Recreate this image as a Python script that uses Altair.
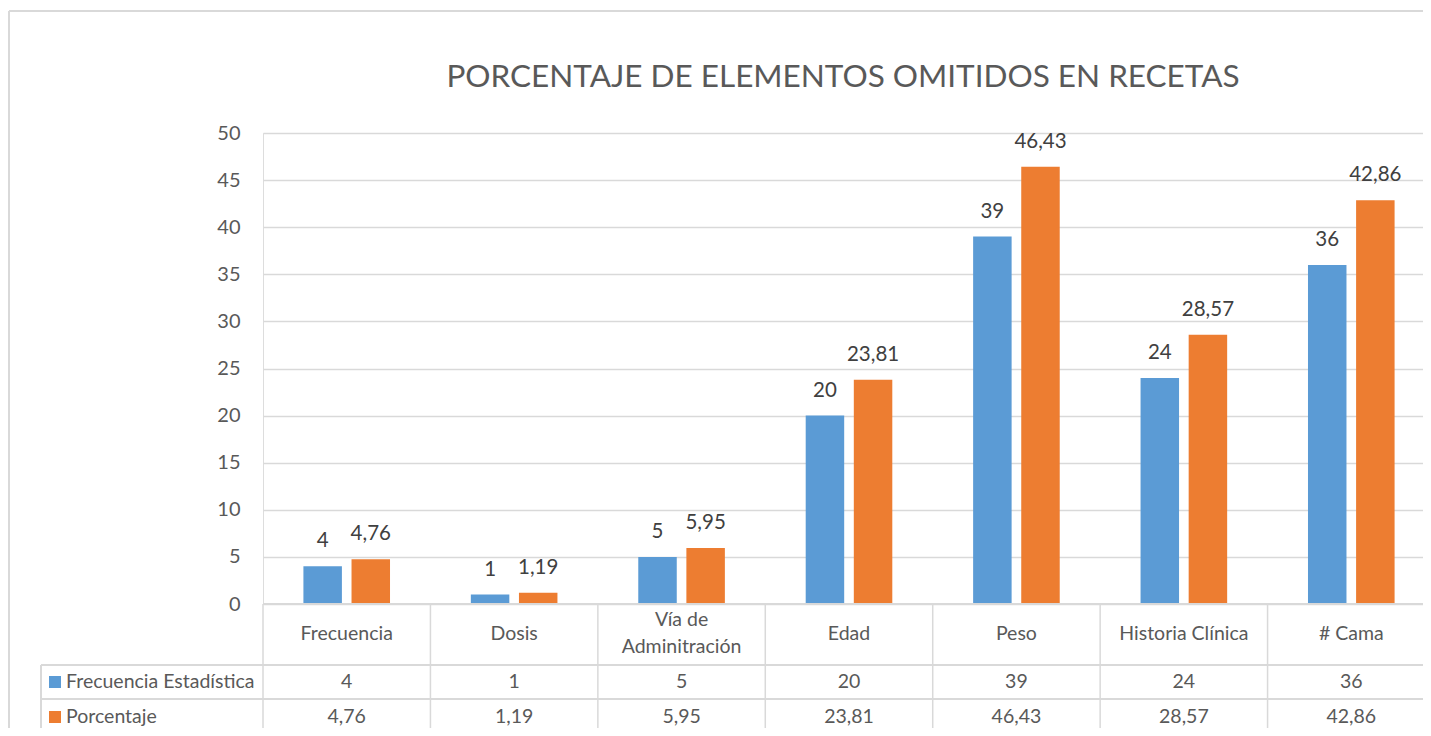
import altair as alt
import pandas as pd

title_text = "PORCENTAJE DE ELEMENTOS OMITIDOS EN RECETAS"
categories = ["Frecuencia", "Dosis", "Vía de\nAdminitración", "Edad", "Peso", "Historia  Clínica", "# Cama"]
series_names = ["Frecuencia Estadística", "Porcentaje"]
frecuencia = [4, 1, 5, 20, 39, 24, 36]
porcentaje = [4.76, 1.19, 5.95, 23.81, 46.43, 28.57, 42.86]
colors = ["#5B9BD5", "#ED7D31"]
y_ticks = [0, 5, 10, 15, 20, 25, 30, 35, 40, 45, 50]

def fmt(v):
    return str(v).replace(".", ",")

rows = []
for c, f, p in zip(categories, frecuencia, porcentaje):
    rows.append({"cat": c, "series": series_names[0], "value": f, "label": fmt(f)})
    rows.append({"cat": c, "series": series_names[1], "value": p, "label": fmt(p)})
df = pd.DataFrame(rows)
cats_df = pd.DataFrame({"cat": categories})
leg_df = pd.DataFrame({"series": series_names})
title_df = pd.DataFrame({"t": [title_text]})

FONT = "Lato"
TXT = "#595959"
GRID = "#d9d9d9"
W, H = 1160, 471
XR = 1172  # full band range (table continues past the visible edge)
TFS = 19.5  # table font size

xscale = alt.Scale(paddingInner=0, paddingOuter=0, range=[0, XR])
xenc = alt.X("cat:N", sort=categories, axis=None, scale=xscale)
color_scale = alt.Scale(domain=series_names, range=colors)
off_scale = alt.Scale(paddingInner=0.2, paddingOuter=0.84)

base = alt.Chart(df)

bars = base.mark_bar().encode(
    x=xenc,
    xOffset=alt.XOffset("series:N", sort=series_names, scale=off_scale),
    y=alt.Y("value:Q", scale=alt.Scale(domain=[0, 50], nice=False),
            axis=alt.Axis(values=y_ticks, title=None, domain=False, ticks=False,
                          grid=True, gridColor=GRID, gridWidth=1.3,
                          labelFont=FONT, labelFontSize=20, labelColor=TXT,
                          labelPadding=23)),
    color=alt.Color("series:N", scale=color_scale, legend=None),
)

bar_labels = base.mark_text(font=FONT, fontSize=20.5, color="#404040",
                            baseline="alphabetic", dy=-19).encode(
    x=xenc,
    xOffset=alt.XOffset("series:N", sort=series_names, scale=off_scale),
    y=alt.Y("value:Q"),
    text="label:N",
)

title = alt.Chart(title_df).mark_text(font=FONT, fontSize=31.5, color=TXT,
                                      baseline="alphabetic", align="center").encode(
    x=alt.value(580), y=alt.value(-46), text="t:N")

# table lines
vlines = alt.Chart(cats_df).mark_rule(color=GRID, strokeWidth=1.5).encode(
    x=alt.X("cat:N", sort=categories, bandPosition=0, axis=None, scale=xscale),
    y=alt.value(H), y2=alt.value(H + 131),
)
hline_top = alt.Chart(cats_df).mark_rule(color=GRID, strokeWidth=1.5).encode(
    x=alt.value(0), x2=alt.value(XR), y=alt.value(H))
hlines = [
    alt.Chart(cats_df).mark_rule(color=GRID, strokeWidth=1.5).encode(
        x=alt.value(-222), x2=alt.value(XR), y=alt.value(yy))
    for yy in (H + 61, H + 95, H + 130)
]
left_vline = alt.Chart(cats_df).mark_rule(color=GRID, strokeWidth=1.5).encode(
    x=alt.value(-222), y=alt.value(H + 61), y2=alt.value(H + 131))

# outer chart border
border_left = alt.Chart(cats_df).mark_rule(color=GRID, strokeWidth=1.5).encode(
    x=alt.value(-254), y=alt.value(-122), y2=alt.value(H + 131))
border_top = alt.Chart(cats_df).mark_rule(color=GRID, strokeWidth=1.5).encode(
    x=alt.value(-254), x2=alt.value(XR), y=alt.value(-122))

header1 = alt.Chart(cats_df).transform_filter(
    "indexof(datum.cat, '\\n') < 0").mark_text(
    font=FONT, fontSize=TFS, color=TXT, baseline="middle").encode(
    x=xenc, y=alt.value(H + 30), text="cat:N")
header2 = alt.Chart(cats_df).transform_filter(
    "indexof(datum.cat, '\\n') >= 0").mark_text(
    font=FONT, fontSize=TFS, color=TXT, baseline="middle", lineBreak="\n",
    lineHeight=27).encode(
    x=xenc, y=alt.value(H + 16), text="cat:N")

row_y = {series_names[0]: H + 78, series_names[1]: H + 113}
cells = []
for s in series_names:
    cells.append(base.transform_filter(alt.datum.series == s).mark_text(
        font=FONT, fontSize=TFS, color=TXT, baseline="middle").encode(
        x=xenc, y=alt.value(row_y[s]), text="label:N"))
    cells.append(alt.Chart(leg_df).transform_filter(alt.datum.series == s).mark_square(
        size=144, opacity=1, filled=True).encode(
        x=alt.value(-208), y=alt.value(row_y[s]),
        color=alt.Color("series:N", scale=color_scale, legend=None)))
    cells.append(alt.Chart(leg_df).transform_filter(alt.datum.series == s).mark_text(
        font=FONT, fontSize=TFS, color=TXT, baseline="middle", align="left").encode(
        x=alt.value(-197), y=alt.value(row_y[s]), text="series:N"))

chart = alt.layer(
    border_left, border_top, bars, bar_labels, hline_top, *hlines, vlines, left_vline,
    header1, header2, title, *cells
).properties(
    width=W, height=H,
    autosize=alt.AutoSizeParams(type="none"),
    padding={"left": 255, "top": 125, "right": 0, "bottom": 124},
).configure_view(stroke=None).configure(background="white")

chart.save("out.html", embed_options={"renderer": "svg", "actions": False})
